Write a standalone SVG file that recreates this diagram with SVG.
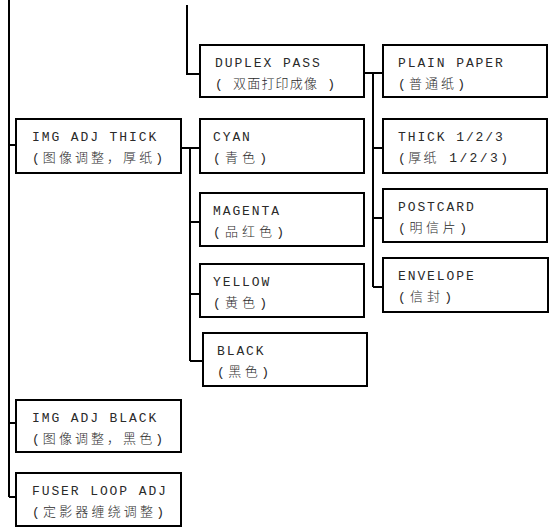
<svg xmlns="http://www.w3.org/2000/svg" width="550" height="528" viewBox="0 0 550 528">
<style>
rect{fill:#fff;stroke:#000;stroke-width:2}
.c path{fill:none;stroke:#000;stroke-width:2}
text{font-family:"Liberation Mono","Noto Sans CJK SC",monospace;fill:#2a2a2a;font-size:13px}
.e{letter-spacing:1.9px}
.z{font-weight:300}
</style>
<g class="c" id="connectors">
<path d="M9,0V497"/>
<path d="M9,145H15M9,423H15M9,497H15"/>
<path d="M187,5V74H199"/>
<path d="M182,148H190M190,148V361M190,148H199M190,222H199M190,294H199M190,361H202"/>
<path d="M365,73H373M373,73V287M373,73H382M373,148H382M373,218H382M373,287H382"/>
</g>
<g id="img-adj-thick"><rect x="16" y="119" width="165" height="54"/><text class="e" x="32" y="141">IMG ADJ THICK</text><text class="z" x="32" y="161.5" textLength="131" lengthAdjust="spacing">(图像调整，厚纸)</text></g>
<g id="img-adj-black"><rect x="16" y="400" width="165" height="52"/><text class="e" x="32" y="422">IMG ADJ BLACK</text><text class="z" x="32" y="442.5" textLength="131" lengthAdjust="spacing">(图像调整，黑色)</text></g>
<g id="fuser-loop-adj"><rect x="16" y="473" width="165" height="53"/><text class="e" x="32" y="495">FUSER LOOP ADJ</text><text class="z" x="32" y="515.5" textLength="132" lengthAdjust="spacing">(定影器缠绕调整)</text></g>
<g id="duplex-pass"><rect x="200" y="45" width="164" height="52"/><text class="e" x="215" y="66.5">DUPLEX PASS</text><text class="z" x="215" y="87.5" textLength="120" lengthAdjust="spacing">( 双面打印成像 )</text></g>
<g id="cyan"><rect x="200" y="119" width="164" height="54"/><text class="e" x="213" y="141">CYAN</text><text class="z" x="213" y="161.5" textLength="54" lengthAdjust="spacing">(青色)</text></g>
<g id="magenta"><rect x="200" y="193" width="164" height="53"/><text class="e" x="213" y="215">MAGENTA</text><text class="z" x="213" y="235.5" textLength="71" lengthAdjust="spacing">(品红色)</text></g>
<g id="yellow"><rect x="200" y="264" width="164" height="53"/><text class="e" x="213" y="286">YELLOW</text><text class="z" x="213" y="306.5" textLength="54" lengthAdjust="spacing">(黄色)</text></g>
<g id="black"><rect x="203" y="333" width="164" height="53"/><text class="e" x="217" y="355">BLACK</text><text class="z" x="217" y="375.5" textLength="52" lengthAdjust="spacing">(黑色)</text></g>
<g id="plain-paper"><rect x="383" y="45" width="164" height="52"/><text class="e" x="398" y="66.5">PLAIN PAPER</text><text class="z" x="398" y="87.5" textLength="67" lengthAdjust="spacing">(普通纸)</text></g>
<g id="thick"><rect x="383" y="119" width="164" height="54"/><text class="e" x="398" y="141">THICK 1/2/3</text><text class="z" x="398" y="161.5" textLength="110" lengthAdjust="spacing">(厚纸 1/2/3)</text></g>
<g id="postcard"><rect x="383" y="189" width="164" height="53"/><text class="e" x="398" y="211">POSTCARD</text><text class="z" x="398" y="231.5" textLength="69" lengthAdjust="spacing">(明信片)</text></g>
<g id="envelope"><rect x="383" y="258" width="165" height="54"/><text class="e" x="398" y="280">ENVELOPE</text><text class="z" x="398" y="300.5" textLength="54" lengthAdjust="spacing">(信封)</text></g>
</svg>
